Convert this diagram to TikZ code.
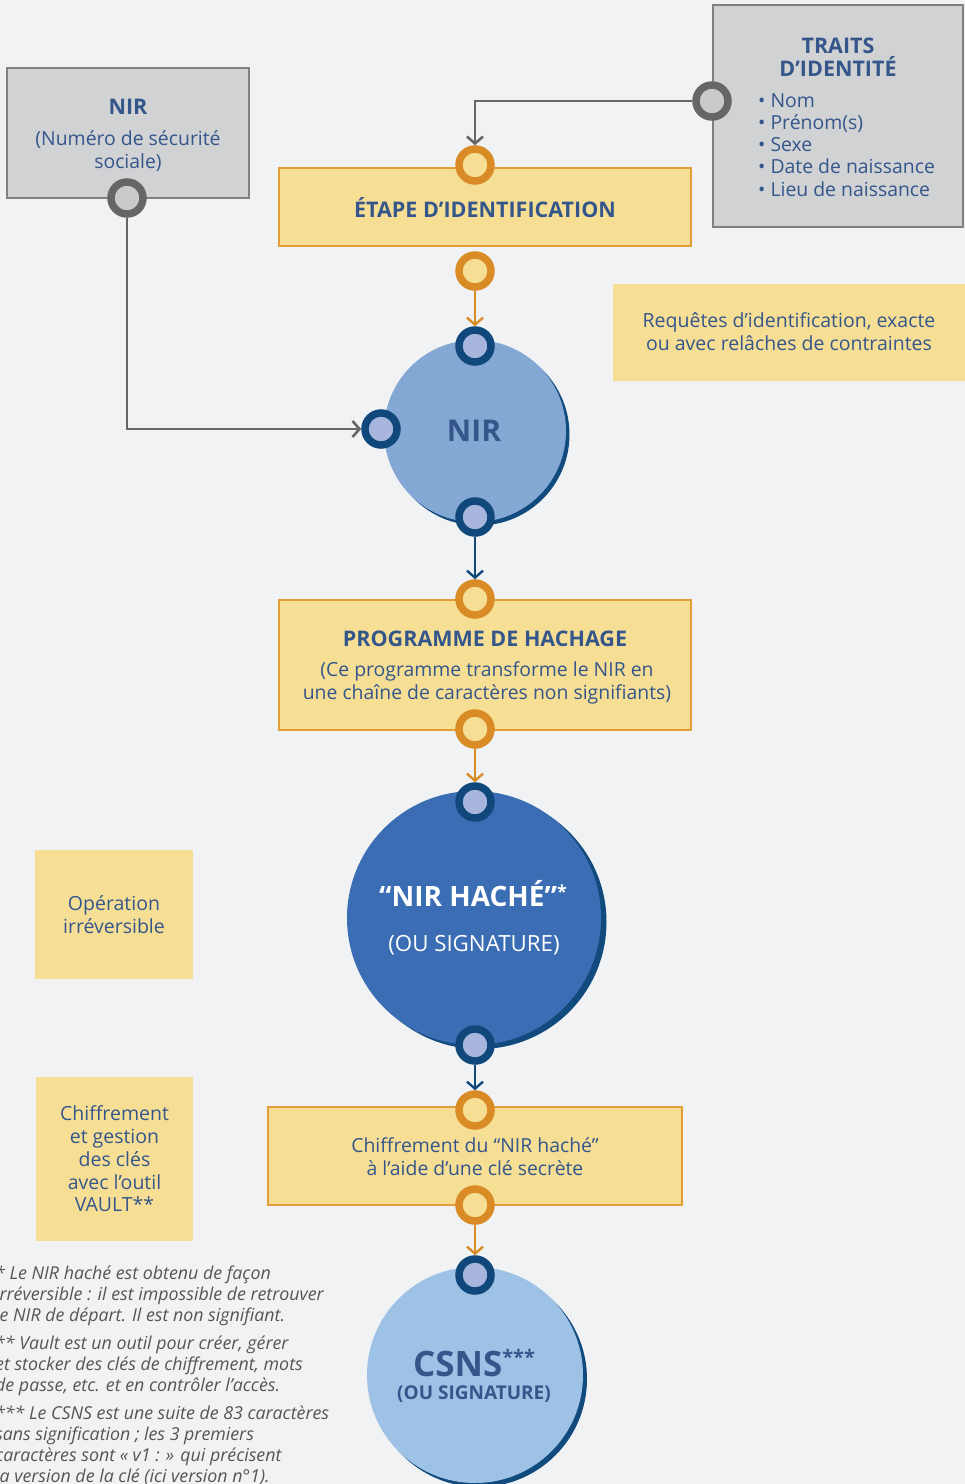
\documentclass[tikz,border=0pt]{standalone}
\usepackage{fontspec}
\setmainfont{Open Sans}
\usetikzlibrary{arrows.meta}
\definecolor{bg}{HTML}{F1F2F4}
\definecolor{gfill}{HTML}{D1D2D4}
\definecolor{gline}{HTML}{808080}
\definecolor{gring}{HTML}{666666}
\definecolor{ginner}{HTML}{C9CACC}
\definecolor{yel}{HTML}{F6DF95}
\definecolor{orb}{HTML}{E39E3A}
\definecolor{oring}{HTML}{D98B25}
\definecolor{tblue}{HTML}{34568B}
\definecolor{bring}{HTML}{10487C}
\definecolor{binner}{HTML}{A8B5DC}
\definecolor{nirfill}{HTML}{84A8D4}
\definecolor{hachefill}{HTML}{3A6DB4}
\definecolor{csnsfill}{HTML}{9EC2E6}
\definecolor{shadowblue}{HTML}{114A7D}
\definecolor{foot}{HTML}{555555}
\tikzset{
  ybox/.style={fill=yel, draw=orb, line width=1.2pt, inner sep=0pt},
  gbox/.style={fill=gfill, draw=gline, line width=1.5pt, inner sep=0pt},
  notebox/.style={fill=yel, inner sep=0pt, text=tblue, align=center, font=\fontsize{19.5}{22.8}\selectfont},
  portbase/.style={circle, line width=7.5pt, minimum size=32pt, inner sep=0pt},
  oport/.style={portbase, draw=oring, fill=yel},
  bport/.style={portbase, draw=bring, fill=binner},
  gport/.style={portbase, draw=gring, fill=ginner},
  bubble/.style={circle, inner sep=0pt},
  tip/.style={-{Straight Barb[length=7pt,width=16pt]}},
  gcon/.style={tip, draw=gring, line width=2.6pt},
  ocon/.style={tip, draw=oring, line width=2.4pt},
  bcon/.style={tip, draw=bring, line width=2.4pt},
  title/.style={text=tblue, font=\fontsize{21.5}{24}\selectfont\bfseries},
  body/.style={text=tblue, font=\fontsize{19.4}{23}\selectfont, align=center},
  footnote/.style={text=foot, anchor=north west, align=left, inner sep=0pt, font=\fontsize{17.8}{21}\selectfont\itshape}
}
\begin{document}
\begin{tikzpicture}[x=1pt,y=-1pt]
\fill[bg] (0,0) rectangle (965,1484);
\useasboundingbox (0,0) rectangle (965,1484);

% grey boxes
\node[gbox, minimum width=242pt, minimum height=130pt] (nirbox) at (128,133) {};
\node[title] at (128,107) {NIR};
\node[body] at (128,151) {(Numéro de sécurité\\sociale)};

\node[gbox, minimum width=250pt, minimum height=222pt] (traits) at (838,116) {};
\node[title, align=center, font=\fontsize{21.5}{23.5}\selectfont\bfseries] at (838,57) {TRAITS\\D’IDENTITÉ};
\node[body, align=left, anchor=north west, inner sep=0pt, font=\fontsize{19.4}{22.3}\selectfont] at (758,93) {• Nom\\• Prénom(s)\\• Sexe\\• Date de naissance\\• Lieu de naissance};

% yellow process boxes
\node[ybox, minimum width=412pt, minimum height=78pt] (etape) at (485,207) {};
\node[title] at (485,208) {ÉTAPE D’IDENTIFICATION};

\node[ybox, minimum width=412pt, minimum height=130pt] (prog) at (485,665) {};
\node[title] at (485,639) {PROGRAMME DE HACHAGE};
\node[body] at (487,683) {(Ce programme transforme le NIR en\\une chaîne de caractères non signifiants)};

\node[ybox, minimum width=414pt, minimum height=98pt] (chiff) at (475,1156) {};
\node[body] at (475,1157) {Chiffrement du “NIR haché”\\à l’aide d’une clé secrète};

% notes
\node[notebox, minimum width=352pt, minimum height=97pt] (req) at (789,332) {Requêtes d’identification, exacte\\ou avec relâches de contraintes};
\node[notebox, minimum width=158pt, minimum height=129pt] (irr) at (114,914.5) {Opération\\irréversible};
\node[notebox, minimum width=157pt, minimum height=164pt] (vault) at (114.5,1159) {Chiffrement\\et gestion\\des clés\\avec l’outil\\VAULT**};

% bubbles with shadows
\fill[shadowblue] (478.5,434.5) circle[radius=91pt];
\node[bubble, fill=nirfill, minimum size=182pt] (nir) at (475,431) {};
\node[text=tblue, font=\fontsize{30}{34}\selectfont\bfseries] at (474,431) {NIR};

\fill[shadowblue] (479.5,922) circle[radius=127pt];
\node[bubble, fill=hachefill, minimum size=254pt] (hache) at (474,918) {};
\node[text=white, font=\fontsize{28}{32}\selectfont\bfseries] at (473,894) {“NIR HACHÉ”\raisebox{0.3em}{\fontsize{18}{20}\selectfont *}};
\node[text=white, font=\fontsize{22.3}{26}\selectfont] at (474,945) {(OU SIGNATURE)};

\fill[shadowblue] (479,1379) circle[radius=108pt];
\node[bubble, fill=csnsfill, minimum size=216pt] (csns) at (475,1375) {};
\node[text=tblue, font=\fontsize{35}{38}\selectfont\bfseries] at (474,1363) {CSNS\raisebox{0.35em}{\fontsize{20}{22}\selectfont ***}};
\node[text=tblue, font=\fontsize{19}{22}\selectfont\bfseries] at (474,1394) {(OU SIGNATURE)};

% ports
\node[gport] (pnir) at (127,198) {};
\node[gport] (ptraits) at (712,101) {};
\node[oport] (petapein) at (475,165) {};
\node[oport] (petapeout) at (475,271) {};
\node[bport] (pnirtop) at (475,346) {};
\node[bport] (pnirleft) at (381,429) {};
\node[bport] (pnirbot) at (475,517) {};
\node[oport] (progin) at (475,599) {};
\node[oport] (progout) at (475,729) {};
\node[bport] (hachein) at (475,802) {};
\node[bport] (hacheout) at (475,1045) {};
\node[oport] (chiffin) at (475,1110) {};
\node[oport] (chiffout) at (475,1205) {};
\node[bport] (csnsin) at (475,1275) {};

% connectors
\draw[gcon] (pnir.south) |- (pnirleft.west);
\draw[gcon] (ptraits.west) -| (petapein.north);
\draw[ocon] (petapeout.south) -- (pnirtop.north);
\draw[bcon] (pnirbot.south) -- (progin.north);
\draw[ocon] (progout.south) -- (hachein.north);
\draw[bcon] (hacheout.south) -- (chiffin.north);
\draw[ocon] (chiffout.south) -- (csnsin.north);

% footnotes
\node[footnote] (f1) at (-5,1266) {* Le NIR haché est obtenu de façon\\irréversible : il est impossible de retrouver\\le NIR de départ. Il est non signifiant.};
\node[footnote] (f2) at (-5,1336) {** Vault est un outil pour créer, gérer\\et stocker des clés de chiffrement, mots\\de passe, etc. et en contrôler l’accès.};
\node[footnote] (f3) at (-5,1406) {*** Le CSNS est une suite de 83 caractères\\sans signification ; les 3 premiers\\caractères sont « v1 : » qui précisent\\la version de la clé (ici version n°1).};
\end{tikzpicture}
\end{document}
